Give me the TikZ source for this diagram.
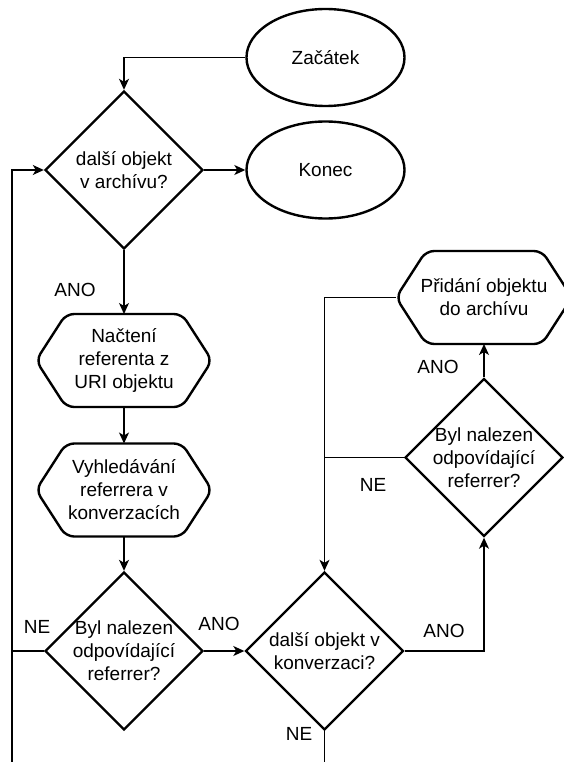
\documentclass[tikz,border=0pt]{standalone}
\usepackage{fontspec}
\setmainfont{Liberation Sans}
\usetikzlibrary{shapes.geometric,arrows.meta}

% outline of a preparation (hexagon) box around a named node
\newcommand{\hexframe}[1]{%
  \draw[shapeline, rounded corners=8pt]
    (#1.north) -- ([xshift=-30pt]#1.north east) -- (#1.east)
    -- ([xshift=-30pt]#1.south east) -- ([xshift=30pt]#1.south west)
    -- (#1.west) -- ([xshift=30pt]#1.north west) -- cycle;}

\begin{document}
\begin{tikzpicture}[x=1pt,y=-1pt,
  every node/.style={font=\fontsize{19}{23}\selectfont},
  shapeline/.style={draw, line width=2.4pt},
  terminal/.style={ellipse, shapeline, minimum width=158pt, minimum height=97pt, inner sep=0pt},
  decision/.style={diamond, shapeline, aspect=1, minimum width=158pt, minimum height=158pt, inner sep=0pt},
  caption/.style={align=center, inner sep=0pt},
  process/.style={align=center, inner sep=0pt, outer sep=0pt, minimum width=176pt, minimum height=93pt},
  conn/.style={line width=1.3pt, -{Stealth[length=11pt,width=10pt,inset=3pt]}},
  link/.style={line width=1.3pt},
  tag/.style={inner sep=0pt}
]
\useasboundingbox[fill=white] (0,0) rectangle (563,762);

% shapes
\node[terminal] (start) at (325.5,57.5) {Začátek};
\node[decision] (d1) at (124,170) {};
\node[caption] (d1t) at (d1) {další objekt\\v archívu?};
\node[terminal] (end) at (325.5,170) {Konec};
\node[process] (h1) at (124,360.5) {Načtení\\referenta z\\URI objektu};
\node[process] (h2) at (124,490) {Vyhledávání\\referrera v\\konverzacích};
\node[decision] (d3) at (124,651) {};
\node[caption] (d3t) at (d3) {Byl nalezen\\odpovídající\\referrer?};
\node[decision] (d4) at (324.5,651) {};
\node[caption] (d4t) at (d4) {další objekt v\\konverzaci?};
\node[decision] (d5) at (484,457.5) {};
\node[caption] (d5t) at (d5) {Byl nalezen\\odpovídající\\referrer?};
\node[process] (h3) at (484,297.5) {Přidání objektu\\do archívu};
\hexframe{h1}
\hexframe{h2}
\hexframe{h3}

% connectors
\draw[conn] (start.west) -| (d1.north);
\draw[conn] (d1.east) -- (end.west);
\draw[conn] (d1.south) -- (h1.north);
\draw[conn] (h1.south) -- (h2.north);
\draw[conn] (h2.south) -- (d3.north);
\draw[conn] (d3.east) -- (d4.west);
\draw[conn] (d4.east) -| (d5.south);
\draw[conn] (d5.north) -- (h3.south);
\draw[conn] (h3.west) -| (d4.north);
\coordinate (join5) at (d4.north |- d5.west);
\draw[link] (d5.west) -- (join5);
\coordinate (loopbot) at (12,762);
\coordinate (join3) at (loopbot |- d3.west);
\draw[link] (d3.west) -- (join3);
\draw[conn] (loopbot) |- (d1.west);
\coordinate (d4out) at (d4.south |- loopbot);
\draw[link] (d4.south) -- (d4out);

% branch labels
\node[tag] (l1) at (75,290) {ANO};
\node[tag] (l2) at (37,627) {NE};
\node[tag] (l3) at (219,624) {ANO};
\node[tag] (l4) at (438,367) {ANO};
\node[tag] (l5) at (373,485) {NE};
\node[tag] (l6) at (444,631) {ANO};
\node[tag] (l7) at (299,734) {NE};
\end{tikzpicture}
\end{document}
